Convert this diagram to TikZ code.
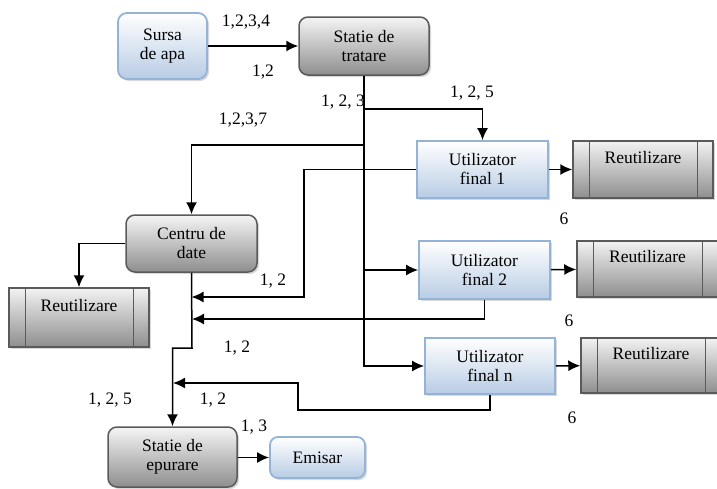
\documentclass[tikz,border=0pt]{standalone}
\usepackage{fontspec}
\setmainfont{Liberation Serif}
\usetikzlibrary{shapes, arrows.meta, positioning, shadows, calc}
\definecolor{bluefill}{HTML}{B8CCE4}
\definecolor{blueedge}{HTML}{95B3D7}
\definecolor{grayfill}{HTML}{8E8E8E}
\definecolor{grayedge}{HTML}{5A5A5A}
\tikzstyle{bluebox} = [rectangle, draw=blueedge, line width=1.8pt,
    top color=white, bottom color=bluefill, align=center, inner sep=0pt,
    drop shadow={opacity=0.3, shadow xshift=2pt, shadow yshift=-2pt}]
\tikzstyle{graybox} = [rectangle, draw=grayedge, line width=1.5pt, rounded corners=9pt,
    top color=gray!8, bottom color=grayfill, align=center, inner sep=0pt,
    drop shadow={opacity=0.3, shadow xshift=2pt, shadow yshift=-2pt}]
\tikzstyle{reuse} = [rectangle, draw=grayedge, line width=1.5pt,
    top color=gray!10, bottom color=grayfill, align=center, inner sep=0pt,
    drop shadow={opacity=0.3, shadow xshift=2pt, shadow yshift=-2pt}]
\tikzstyle{line} = [draw, line width=1.5pt, -{Latex[length=12pt, width=11pt]}]
\tikzstyle{lbl} = [inner sep=0pt]

\begin{document}
\begin{tikzpicture}[x=1pt, y=-1pt, font=\fontsize{17.5}{19}\selectfont]
  \useasboundingbox (0,0) rectangle (717,488);
  % Place nodes
  % Supply
  \node[bluebox, rounded corners=9pt, minimum width=89pt, minimum height=66pt] (src) at (162.5,46) {Sursa\\de apa};
  \node[graybox, minimum width=130pt, minimum height=58pt] (treat) at (364,46) {Statie de\\tratare};
  % Users
  \node[bluebox, minimum width=131pt, minimum height=57pt] (user1) at (482.5,169.5) {Utilizator\\final 1};
  \node[bluebox, minimum width=131pt, minimum height=58pt] (user2) at (484.5,270) {Utilizator\\final 2};
  \node[bluebox, minimum width=130pt, minimum height=56pt] (usern) at (490,366) {Utilizator\\final n};
  % Reuse
  \node[reuse, minimum width=140pt, minimum height=57pt] (reuse1) at (643,169.5) {Reutilizare\\ \strut};
  \node[reuse, minimum width=141pt, minimum height=56pt] (reuse2) at (647.5,269) {Reutilizare\\ \strut};
  \node[reuse, minimum width=140pt, minimum height=55pt] (reuse3) at (651,365.5) {Reutilizare\\ \strut};
  \node[reuse, minimum width=140pt, minimum height=59pt] (reuse0) at (79,317.5) {Reutilizare\\ \strut};
  \foreach \r in {reuse0, reuse1, reuse2, reuse3} {
    \draw[grayedge, line width=1.3pt] ([xshift=17pt]\r.north west) -- ([xshift=17pt]\r.south west);
    \draw[grayedge, line width=1.3pt] ([xshift=-16pt]\r.north east) -- ([xshift=-16pt]\r.south east);
  }
  % Data centre and treatment
  \node[graybox, minimum width=131pt, minimum height=57pt] (data) at (191.5,243.5) {Centru de\\date};
  \node[graybox, minimum width=129pt, minimum height=60pt] (wwtp) at (172.5,457) {Statie de\\epurare};
  \node[bluebox, rounded corners=8pt, minimum width=95pt, minimum height=41pt] (emisar) at (317.5,457.5) {Emisar};

  % Labels
  \node[lbl] (l1) at (246,22) {1,2,3,4};
  \node[lbl] (l2) at (263,72) {1,2};
  \node[lbl] (l3) at (343,102) {1, 2, 3};
  \node[lbl] (l4) at (472,93) {1, 2, 5};
  \node[lbl] (l5) at (243,120) {1,2,3,7};
  \node[lbl] (l6) at (564,219) {6};
  \node[lbl] (l7) at (273,281) {1, 2};
  \node[lbl] (l8) at (569,321) {6};
  \node[lbl] (l9) at (237,348) {1, 2};
  \node[lbl] (l10) at (110,400) {1, 2, 5};
  \node[lbl] (l11) at (213,400) {1, 2};
  \node[lbl] (l12) at (572,418) {6};
  \node[lbl] (l13) at (254,427) {1, 3};

  % Draw edges
  \coordinate (b1) at (364,109);
  \coordinate (b2) at (364,145);
  \coordinate (r1) at (304,297);
  \coordinate (r2) at (192,319);
  \coordinate (d1) at (192,348);
  \coordinate (r3) at (298,410);
  \coordinate (r4) at (173,383);

  \path [line] (src) -- (treat);
  \path [line] (treat.south) |- (usern.west);
  \path [line] (b1) -| (user1.north);
  \path [line] (b2) -| (data.north);
  \path [line] (treat.south |- user2.west) -- (user2.west);

  \path [line] (user1) -- (reuse1);
  \path [line] (user2) -- (reuse2);
  \path [line] (usern) -- (reuse3);

  \path [line] (user1.west) -| (r1) -- (data.south |- r1);
  \path [line] (user2.south) |- (r2);
  \path [line] (usern.south) |- (r3) |- (r4);

  \path [line] (data.west) -| (reuse0.north);
  \path [line] (data.south) -- (d1) -| (wwtp.north);
  \path [line] (wwtp.east |- emisar.west) -- (emisar.west);
\end{tikzpicture}
\end{document}
